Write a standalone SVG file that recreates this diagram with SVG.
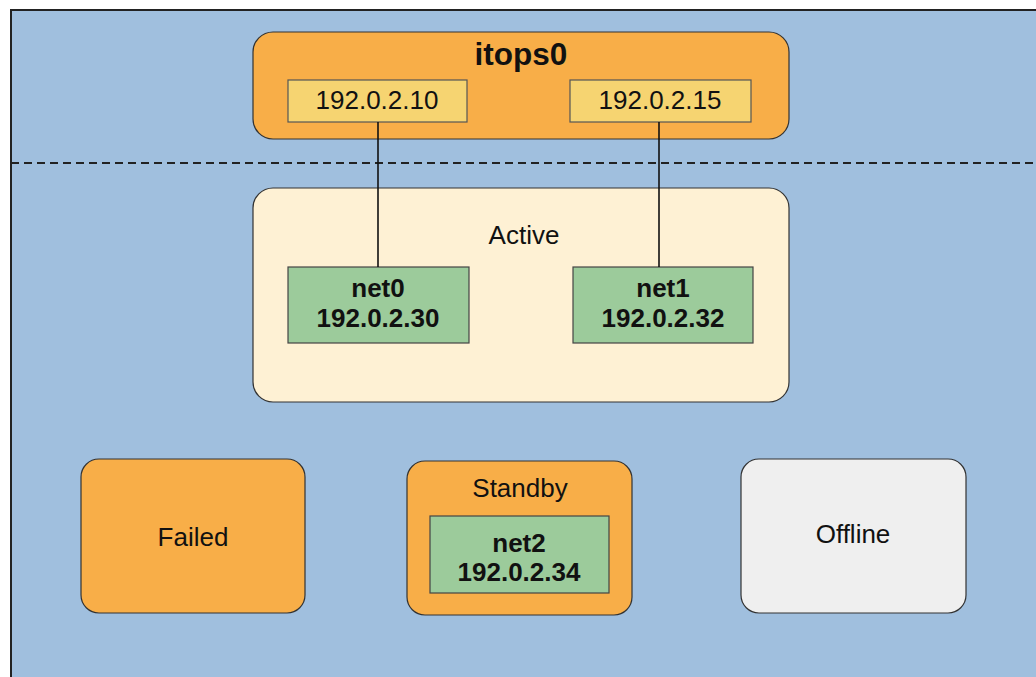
<svg xmlns="http://www.w3.org/2000/svg" width="1036" height="677" viewBox="0 0 1036 677">
<style>
.t{font-family:"Liberation Sans",Arial,sans-serif;fill:#111;text-anchor:middle;font-size:26px}
.b{font-weight:bold}
.box{stroke:#333;stroke-width:1.2}
.orange{fill:#F8AE48}
.ip{fill:#F6D471;stroke:#555;stroke-width:1.2}
.green{fill:#9CCB9B;stroke:#444;stroke-width:1.2}
.conn{stroke:#111;stroke-width:1.6;fill:none}
</style>
<rect x="0" y="0" width="1036" height="677" fill="#ffffff"/>
<rect x="11" y="10" width="1040" height="680" fill="#A0BFDE" stroke="#222" stroke-width="2"/>
<line x1="11" y1="163" x2="1036" y2="163" stroke="#222" stroke-width="2" stroke-dasharray="8,5"/>
<g id="itops0">
<rect class="box orange" x="253" y="32" width="536" height="107" rx="20"/>
<text class="t b" x="521" y="65" style="font-size:31.5px">itops0</text>
</g>
<g id="ip10">
<rect class="ip" x="288" y="80" width="179" height="42"/>
<text class="t" x="377" y="109">192.0.2.10</text>
</g>
<g id="ip15">
<rect class="ip" x="570" y="80" width="181" height="42"/>
<text class="t" x="660" y="109">192.0.2.15</text>
</g>
<g id="active">
<rect class="box" x="253" y="188" width="536" height="214" rx="20" fill="#FEF1D4"/>
<text class="t" x="524" y="244">Active</text>
</g>
<g id="net0">
<rect class="green" x="288" y="267" width="181" height="76"/>
<text class="t b" x="378" y="297">net0</text>
<text class="t b" x="378" y="327">192.0.2.30</text>
</g>
<g id="net1">
<rect class="green" x="573" y="267" width="180" height="76"/>
<text class="t b" x="663" y="297">net1</text>
<text class="t b" x="663" y="327">192.0.2.32</text>
</g>
<g id="failed">
<rect class="box orange" x="81" y="459" width="224" height="154" rx="18"/>
<text class="t" x="193" y="546">Failed</text>
</g>
<g id="standby">
<rect class="box orange" x="407" y="461" width="225" height="154" rx="18"/>
<text class="t" x="520" y="497">Standby</text>
</g>
<g id="net2">
<rect class="green" x="430" y="516" width="179" height="77"/>
<text class="t b" x="519" y="552">net2</text>
<text class="t b" x="519" y="581">192.0.2.34</text>
</g>
<g id="offline">
<rect class="box" x="741" y="459" width="225" height="154" rx="18" fill="#EFEFEF"/>
<text class="t" x="853" y="543">Offline</text>
</g>
<g id="connectors">
<line class="conn" x1="378" y1="122" x2="378" y2="267"/>
<line class="conn" x1="659" y1="122" x2="659" y2="267"/>
</g>
</svg>
